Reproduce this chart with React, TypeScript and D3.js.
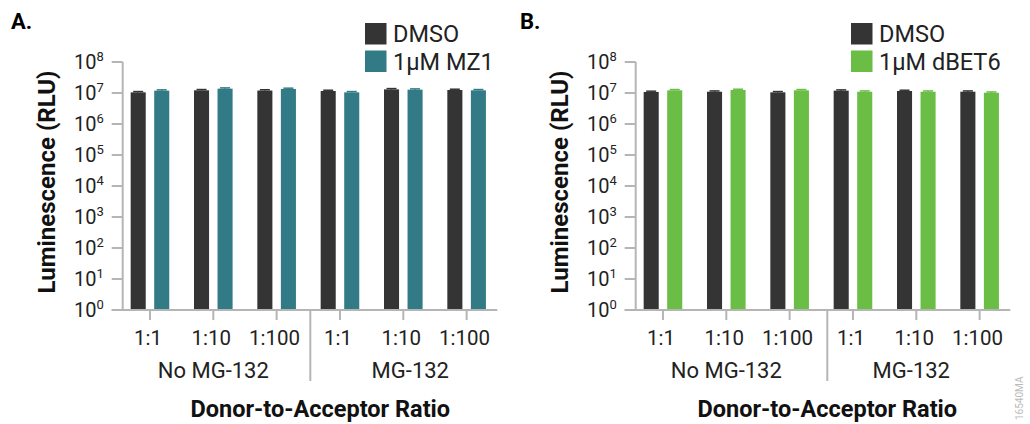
import * as d3 from "d3";

const groups = ["No MG-132", "MG-132"];
const ratios = ["1:1", "1:10", "1:100"];
const categories = ["No-1:1", "No-1:10", "No-1:100", "MG-1:1", "MG-1:10", "MG-1:100"];
const yTicks = [0, 1, 2, 3, 4, 5, 6, 7, 8];

// panel A
const dmsoA = [1.05e7, 1.22e7, 1.2e7, 1.16e7, 1.31e7, 1.25e7];
const mz1A = [1.19e7, 1.38e7, 1.35e7, 1.05e7, 1.28e7, 1.22e7];
// panel B
const dmsoB = [1.08e7, 1.1e7, 1.05e7, 1.19e7, 1.16e7, 1.1e7];
const dbet6B = [1.22e7, 1.25e7, 1.22e7, 1.1e7, 1.1e7, 1.02e7];

const DARK = "#333433";
const GRAY = "#b5b5b5";
const FONT = "Roboto, sans-serif";

const panels = [
  { letter: "A.", letterX: 11, dx: 0, legendX: 365, series: [dmsoA, mz1A], names: ["DMSO", "1μM MZ1"], colors: [DARK, "#327b86"], yLabelX: 55, sepShift: 2, groupShift: [0, 7], titleShift: 12 },
  { letter: "B.", letterX: 520, dx: 513, legendX: 851, series: [dmsoB, dbet6B], names: ["DMSO", "1μM dBET6"], colors: [DARK, "#6abd45"], yLabelX: 568, sepShift: 6, groupShift: [0, -5], titleShift: 6 },
];

const Panel = ({ p }) => {
  const axisX = 122.7 + p.dx;
  const y = d3.scaleLog().domain([1, 1e8]).range([310, 62]);
  const x = d3.scaleBand().domain(categories).range([118.3 + p.dx, 498.3 + p.dx]);
  const sub = d3.scaleBand().domain(["0", "1"]).range([-19.3, 19.3]).paddingInner(0.36);
  const bw = sub.bandwidth();
  const mid = (i) => x(categories[i]) + x.bandwidth() / 2;
  const sepX = (mid(2) + mid(3)) / 2 + p.sepShift;
  return (
    <g>
      <text x={p.letterX} y={29} fontSize={22} fontWeight="bold" fontFamily={FONT}>{p.letter}</text>
      {p.series.map((vals, s) =>
        vals.map((v, i) => {
          const bx = mid(i) + sub(String(s));
          return (
            <g key={s + "-" + i}>
              <rect x={bx} y={y(v)} width={bw} height={y(1) - y(v)} fill={p.colors[s]} />
              <line x1={bx + bw / 2 - 5} x2={bx + bw / 2 + 5} y1={y(v * 1.06)} y2={y(v * 1.06)} stroke={p.colors[s]} strokeWidth={1.5} />
              <line x1={bx + bw / 2} x2={bx + bw / 2} y1={y(v * 1.06)} y2={y(v)} stroke={p.colors[s]} strokeWidth={1.5} />
            </g>
          );
        })
      )}
      {/* y axis */}
      <line x1={axisX} x2={axisX} y1={y(1e8)} y2={y(1)} stroke={GRAY} strokeWidth={2} />
      {yTicks.map((t) => (
        <g key={t}>
          <line x1={axisX - 11} x2={axisX} y1={y(Math.pow(10, t))} y2={y(Math.pow(10, t))} stroke={GRAY} strokeWidth={2} />
          <text x={axisX - 19} y={y(Math.pow(10, t)) + 7} textAnchor="end" fontSize={20} fontFamily={FONT} fill="#222">
            10<tspan dy={-8} fontSize={13}>{t}</tspan>
          </text>
        </g>
      ))}
      {/* x axis */}
      <line x1={axisX - 11} x2={498.3 + p.dx - 1} y1={y(1)} y2={y(1)} stroke={GRAY} strokeWidth={2} />
      {categories.map((c, i) => (
        <g key={c}>
          <line x1={mid(i)} x2={mid(i)} y1={y(1)} y2={y(1) + 10} stroke={GRAY} strokeWidth={2} />
          <text x={mid(i) - 2} y={345} textAnchor="middle" fontSize={20.5} fontFamily={FONT} fill="#222">{ratios[i % 3]}</text>
        </g>
      ))}
      <line x1={sepX} x2={sepX} y1={y(1)} y2={381} stroke={GRAY} strokeWidth={2} />
      {groups.map((g, gi) => (
        <text key={g} x={mid(gi * 3 + 1) + p.groupShift[gi]} y={378} textAnchor="middle" fontSize={22} fontFamily={FONT} fill="#222">{g}</text>
      ))}
      <text x={(mid(0) + mid(5)) / 2 + p.titleShift} y={417} textAnchor="middle" fontSize={23.5} fontWeight="bold" fontFamily={FONT} fill="#111">Donor-to-Acceptor Ratio</text>
      <text transform={`translate(${p.yLabelX},182) rotate(-90)`} textAnchor="middle" fontSize={24} fontWeight="bold" fontFamily={FONT} fill="#111">Luminescence (RLU)</text>
      {/* legend */}
      {p.names.map((n, s) => (
        <g key={n}>
          <rect x={p.legendX} y={23 + s * 27.5} width={21.5} height={21.5} fill={p.colors[s]} />
          <text x={p.legendX + 28} y={42 + s * 27.5} fontSize={23.5} fontFamily={FONT} fill="#222">{n}</text>
        </g>
      ))}
    </g>
  );
};

export default function App() {
  return (
    <svg width={1030} height={424} style={{ position: "absolute", left: 0, top: 0, background: "#fff" }}>
      {panels.map((p) => (
        <Panel key={p.letter} p={p} />
      ))}
      <text transform="translate(1023,420) rotate(-90)" fontSize={10} fontFamily={FONT} fill="#bbb">16540MA</text>
    </svg>
  );
}
